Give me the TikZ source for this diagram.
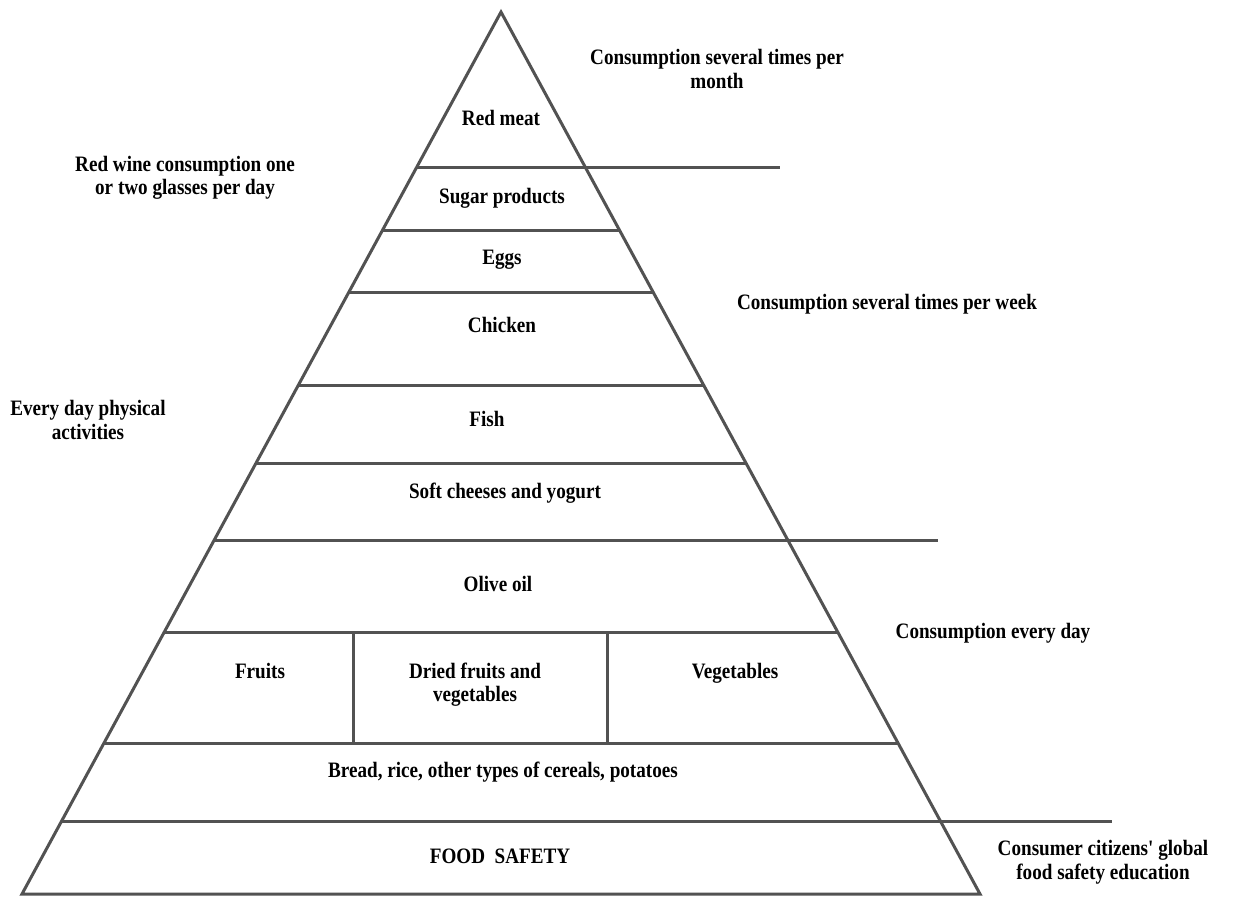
\documentclass[tikz,border=0pt]{standalone}
\usepackage{fontspec}
\setmainfont{Liberation Serif}[Ligatures=TeXOff]
% slightly narrowed bold face for the labels
\newfontfamily\tallserif{Liberation Serif}[Ligatures=TeXOff,FakeStretch=0.87]
\usetikzlibrary{calc}
\begin{document}
\begin{tikzpicture}[x=1pt,y=-1pt,
  edge/.style={draw=black!68,line width=3pt},
  tier/.style={draw=black!68,line width=3pt},
  lbl/.style={font=\tallserif\bfseries\fontsize{22}{23}\selectfont,align=center,inner sep=0pt},
  side/.style={font=\tallserif\bfseries\fontsize{22}{23.5}\selectfont,align=center,inner sep=0pt}]
\useasboundingbox[fill=white] (0,0) rectangle (1242,897);
% pyramid outline
\coordinate (apex) at (501,12);
\coordinate (bl) at (22,894);
\coordinate (br) at (980,894);
\draw[edge,line join=miter] (bl) -- (apex) -- (br) -- cycle;
% tier boundaries: left and right ends on the sides of the pyramid
\foreach \n/\y in {1/168,2/230,3/293,4/386,5/463,6/541,7/633,8/743,9/821}{
  \pgfmathsetmacro{\t}{(\y-12)/882}
  \coordinate (L\n) at ($(apex)!\t!(bl)$);
  \coordinate (R\n) at ($(apex)!\t!(br)$);
}
\foreach \n in {2,3,4,5,7,8}{\draw[tier] (L\n) -- (R\n);}
% boundaries reaching out to the frequency labels
\coordinate (E1) at (780,0 |- L1);
\coordinate (E6) at (938,0 |- L6);
\coordinate (E9) at (1112,0 |- L9);
\draw[tier] (L1) -- (E1);
\draw[tier] (L6) -- (E6);
\draw[tier] (L9) -- (E9);
% dividers of the fruit and vegetable tier
\coordinate (d1t) at (353,0 |- L7); \coordinate (d1b) at (353,0 |- L8);
\coordinate (d2t) at (607,0 |- L7); \coordinate (d2b) at (607,0 |- L8);
\draw[tier] (d1t) -- (d1b);
\draw[tier] (d2t) -- (d2b);
% food groups
\node[lbl] (meat) at (501,118) {Red meat};
\node[lbl] (sugar) at (502,198) {Sugar products};
\node[lbl] (eggs) at (502,260) {Eggs};
\node[lbl] (chicken) at (502,325) {Chicken};
\node[lbl] (fish) at (487,419) {Fish};
\node[lbl] (dairy) at (505,493) {Soft cheeses and yogurt};
\node[lbl] (oil) at (498,584) {Olive oil};
\node[lbl] (fruits) at (260,671) {Fruits};
\node[lbl] (dried) at (475,685) {Dried fruits and\\vegetables};
\node[lbl] (veg) at (735,673) {Vegetables};
\node[lbl] (cereals) at (503,772) {Bread, rice, other types of cereals, potatoes};
\node[lbl] (safety) at (500,856) {FOOD\ \ SAFETY};
% frequencies and advice
\node[side] (month) at (717,69) {Consumption several times per\\month};
\node[side] (wine) at (185,178) {Red wine consumption one\\or two glasses per day};
\node[side] (week) at (887,304) {Consumption several times per week};
\node[side] (phys) at (88,420) {Every day physical\\activities};
\node[side] (day) at (993,633) {Consumption every day};
\node[side] (edu) at (1103,862) {Consumer citizens' global\\food safety education};
\end{tikzpicture}
\end{document}
